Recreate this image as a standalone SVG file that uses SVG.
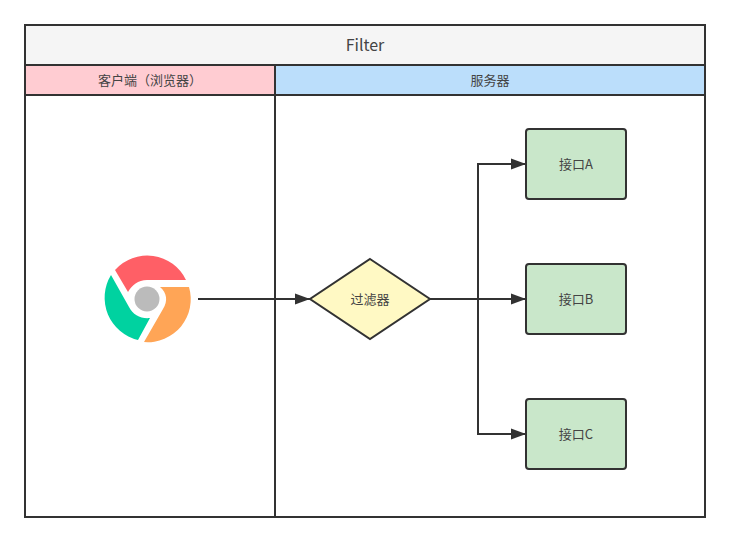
<svg xmlns="http://www.w3.org/2000/svg" width="730" height="542" viewBox="0 0 730 542">
<style>
text{font-family:"Noto Sans CJK SC","Noto Sans",sans-serif;font-size:13px;fill:#444;text-anchor:middle;dominant-baseline:central}
.b{stroke:#323232;stroke-width:2}
.c{fill:none;stroke:#323232;stroke-width:2}
.n{fill:#c9e7ca;stroke:#323232;stroke-width:2}
</style>
<defs><marker id="a" markerUnits="userSpaceOnUse" markerWidth="16" markerHeight="12" refX="15" refY="6" orient="auto" viewBox="0 0 16 12"><path d="M0 .5L15 6L0 11.500Z" fill="#323232"/></marker></defs>
<rect width="730" height="542" fill="#fff"/>
<g id="pool">
<rect class="b" x="25" y="25" width="680" height="492" fill="#fff"/>
<rect class="b" x="25" y="25" width="680" height="40" fill="#f5f5f5"/>
<text x="365" y="44" style="font-size:16px">Filter</text>
</g>
<g id="lane-client">
<rect class="b" x="25" y="65" width="250" height="30" fill="#ffccd2"/>
<rect class="b" x="25" y="95" width="250" height="422" fill="none"/>
<text x="150" y="79.500">客户端（浏览器）</text>
</g>
<g id="lane-server">
<rect class="b" x="275" y="65" width="430" height="30" fill="#bbdefb"/>
<rect class="b" x="275" y="95" width="430" height="422" fill="none"/>
<text x="490" y="79.500">服务器</text>
</g>
<g id="connectors">
<path class="c" d="M198 299H310" marker-end="url(#a)"/>
<path class="c" d="M430 299H526" marker-end="url(#a)"/>
<path class="c" d="M478 299V164H526" marker-end="url(#a)"/>
<path class="c" d="M478 299V434H526" marker-end="url(#a)"/>
</g>
<g id="browser">
<path fill="#ff5f66" d="M115 270A43 43 0 0 1 186 280H147C138 280 132 285 128 292Z"/>
<path fill="#00d2a0" d="M111 275L129 307C133 315 141 319 150 318L138 340A43.500 43.500 0 0 1 111 275Z"/>
<path fill="#ffa556" d="M160 287H189A43 43 0 0 1 144 342L163 309C168 301 167 293 160 287Z"/>
<circle cx="147" cy="299" r="12.500" fill="#bbb"/>
</g>
<g id="filter">
<path class="b" d="M370 259L430 299L370 339L310 299Z" fill="#fff9c4"/>
<text x="370" y="298.500">过滤器</text>
</g>
<g id="api-a">
<rect class="n" x="526" y="129" width="100" height="70" rx="3"/>
<text x="576" y="163.500">接口A</text>
</g>
<g id="api-b">
<rect class="n" x="526" y="264" width="100" height="70" rx="3"/>
<text x="576" y="298.500">接口B</text>
</g>
<g id="api-c">
<rect class="n" x="526" y="399" width="100" height="70" rx="3"/>
<text x="576" y="433.500">接口C</text>
</g>
</svg>
